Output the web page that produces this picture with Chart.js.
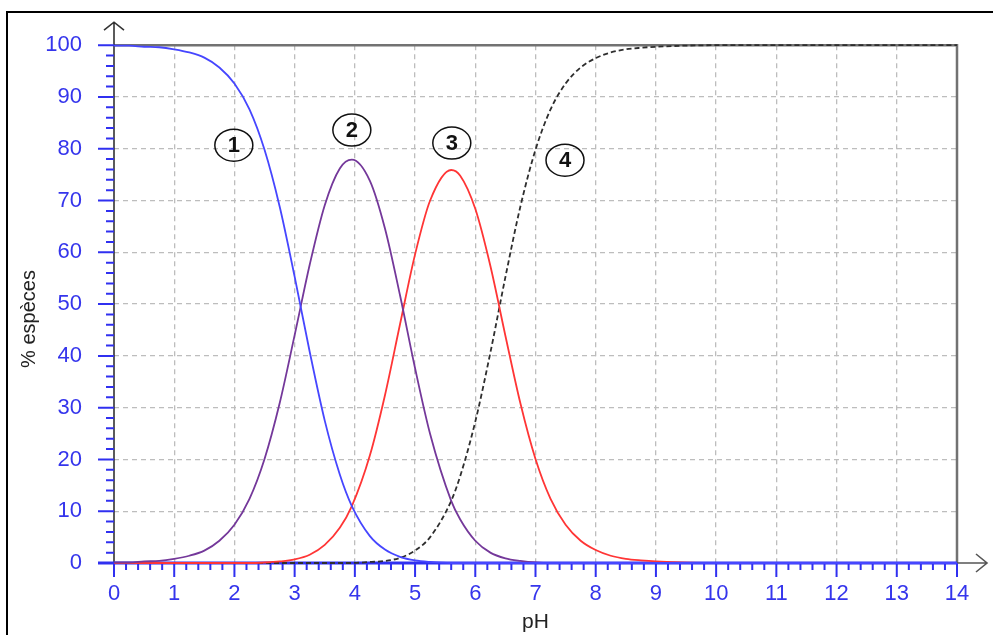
<!DOCTYPE html>
<html>
<head>
<meta charset="utf-8">
<title>% espèces en fonction du pH</title>
<script src="https://cdn.jsdelivr.net/npm/chart.js@4/dist/chart.umd.min.js"></script>
<style>
  html, body { margin: 0; padding: 0; background: #fff; }
  #cadre { width: 993px; height: 635px; position: relative; }
</style>
</head>
<body>
<div id="cadre"><canvas id="graphe"></canvas></div>
<script>
// valeurs
const pH = [0, 0.25, 0.5, 0.75, 1, 1.25, 1.5, 1.75, 2, 2.25, 2.5, 2.75, 3, 3.25, 3.5, 3.75, 3.95,
            4.25, 4.5, 4.75, 5, 5.25, 5.6, 5.75, 6, 6.25, 6.5, 6.75, 7, 7.25, 7.5, 7.75,
            8, 8.25, 8.5, 8.75, 9, 10, 11, 12, 13, 14];
const espece1 = [99.9, 99.9, 99.7, 99.6, 99.2, 98.6, 97.6, 95.7, 92.6, 87.6, 79.8, 68.9, 55.3, 40.8, 27.5, 17.1, 11.0,
                 5.2, 2.6, 1.2, 0.5, 0.2, 0, 0, 0, 0, 0, 0, 0, 0, 0, 0,
                 0, 0, 0, 0, 0, 0, 0, 0, 0, 0];
const espece2 = [0.1, 0.1, 0.3, 0.4, 0.8, 1.4, 2.4, 4.3, 7.4, 12.4, 20.1, 30.8, 44.0, 57.6, 69.1, 76.2, 77.9,
                 73.8, 64.6, 51.7, 37.6, 24.9, 12.0, 8.4, 4.3, 2.0, 0.9, 0.4, 0.1, 0, 0, 0,
                 0, 0, 0, 0, 0, 0, 0, 0, 0, 0];
const espece3 = [0, 0, 0, 0, 0, 0, 0, 0, 0, 0, 0.1, 0.3, 0.7, 1.6, 3.5, 6.8, 11.0,
                 20.8, 32.4, 46.1, 59.6, 70.0, 75.9, 74.8, 68.4, 57.4, 43.9, 30.8, 20.1, 12.4, 7.4, 4.3,
                 2.5, 1.4, 0.8, 0.5, 0.3, 0, 0, 0, 0, 0];
const espece4 = [0, 0, 0, 0, 0, 0, 0, 0, 0, 0, 0, 0, 0, 0, 0, 0, 0,
                 0.2, 0.4, 1.0, 2.4, 5.0, 12.0, 16.8, 27.3, 40.6, 55.2, 68.9, 79.8, 87.6, 92.6, 95.7,
                 97.5, 98.6, 99.2, 99.5, 99.7, 100, 100, 100, 100, 100];
const numeros = ['1', '2', '3', '4'];
const placeNumeros = [[1.99, 80.7], [3.95, 83.6], [5.61, 81.1], [7.49, 77.8]];

const bleuTexte = '#3535ec';
const police = '"Liberation Sans", Arial, sans-serif';

function points(valeurs) {
    return pH.map((p, i) => ({ x: p, y: valeurs[i] }));
}

// axes, flèches, graduations et étiquettes
const decor = {
    id: 'decor',
    beforeDraw(chart) {
        const ctx = chart.ctx;
        ctx.save();
        ctx.strokeStyle = '#000';
        ctx.lineWidth = 2;
        ctx.beginPath();
        ctx.moveTo(7, 640);
        ctx.lineTo(7, 12);
        ctx.lineTo(1000, 12);
        ctx.stroke();
        ctx.restore();
    },
    beforeDatasetsDraw(chart) {
        const { ctx, chartArea: a, scales: { x, y } } = chart;
        ctx.save();
        // cadre haut et droite
        ctx.strokeStyle = '#727272';
        ctx.lineWidth = 2.5;
        ctx.beginPath();
        ctx.moveTo(a.left, a.top);
        ctx.lineTo(a.right, a.top);
        ctx.lineTo(a.right, a.bottom);
        ctx.stroke();

        // axe vertical avec flèche
        ctx.strokeStyle = '#333';
        ctx.lineWidth = 1.6;
        ctx.beginPath();
        ctx.moveTo(a.left, a.bottom);
        ctx.lineTo(a.left, a.top - 23);
        ctx.moveTo(a.left - 10, a.top - 15);
        ctx.lineTo(a.left, a.top - 23);
        ctx.lineTo(a.left + 10, a.top - 15);
        ctx.stroke();

        // flèche horizontale
        ctx.strokeStyle = '#555';
        ctx.beginPath();
        ctx.moveTo(a.right, a.bottom);
        ctx.lineTo(a.right + 30, a.bottom);
        ctx.moveTo(a.right + 19, a.bottom - 9);
        ctx.lineTo(a.right + 30, a.bottom);
        ctx.lineTo(a.right + 19, a.bottom + 9);
        ctx.stroke();

        // axe horizontal bleu
        ctx.strokeStyle = '#3030f0';
        ctx.lineWidth = 3;
        ctx.beginPath();
        ctx.moveTo(a.left - 16, a.bottom);
        ctx.lineTo(a.right, a.bottom);
        ctx.stroke();

        // graduations
        ctx.lineWidth = 2;
        ctx.beginPath();
        for (let i = 0; i <= 70; i++) {
            const px = x.getPixelForValue(i / 5);
            const l = i % 5 === 0 ? 14 : 7;
            ctx.moveTo(px, a.bottom);
            ctx.lineTo(px, a.bottom + l);
        }
        for (let i = 0; i <= 50; i++) {
            const py = y.getPixelForValue(i * 2);
            const l = i % 5 === 0 ? 16 : 8;
            ctx.moveTo(a.left, py);
            ctx.lineTo(a.left - l, py);
        }
        ctx.stroke();
        ctx.restore();
    },
    afterDraw(chart) {
        const { ctx, scales: { x, y } } = chart;
        ctx.save();
        // titre vertical
        ctx.fillStyle = '#222';
        ctx.font = '20px ' + police;
        ctx.textAlign = 'center';
        ctx.textBaseline = 'middle';
        ctx.translate(29, 319);
        ctx.rotate(-Math.PI / 2);
        ctx.fillText('% espèces', 0, 0);
        ctx.restore();

        // numéros entourés
        ctx.save();
        ctx.strokeStyle = '#111';
        ctx.lineWidth = 1.5;
        ctx.fillStyle = '#111';
        ctx.font = 'bold 22px ' + police;
        ctx.textAlign = 'center';
        ctx.textBaseline = 'middle';
        numeros.forEach((n, i) => {
            const cx = x.getPixelForValue(placeNumeros[i][0]);
            const cy = y.getPixelForValue(placeNumeros[i][1]);
            ctx.beginPath();
            ctx.ellipse(cx, cy, 19, 16, 0, 0, Math.PI * 2);
            ctx.stroke();
            ctx.fillText(n, cx, cy + 1);
        });
        ctx.restore();
    }
};

new Chart(document.getElementById('graphe'), {
    type: 'line',
    data: {
        datasets: [
            { data: points(espece1), borderColor: '#4646ff', borderWidth: 1.8 },
            { data: points(espece2), borderColor: '#74389a', borderWidth: 1.8 },
            { data: points(espece3), borderColor: '#ff3535', borderWidth: 1.8 },
            { data: points(espece4), borderColor: '#2e2e2e', borderWidth: 1.8, borderDash: [5, 3] }
        ]
    },
    options: {
        responsive: true,
        maintainAspectRatio: false,
        animation: false,
        events: [],
        layout: { padding: { left: 0, top: 45, right: 36, bottom: 0 } },
        elements: {
            point: { radius: 0 },
            line: { cubicInterpolationMode: 'monotone', fill: false }
        },
        datasets: { line: { clip: false } },
        plugins: { legend: { display: false }, tooltip: { enabled: false } },
        scales: {
            x: {
                type: 'linear',
                min: 0,
                max: 14,
                afterFit: s => { s.height = 72; },
                ticks: { stepSize: 1, color: bleuTexte, padding: 18, font: { family: police, size: 22 } },
                grid: {
                    drawTicks: false,
                    color: c => (c.tick && (c.tick.value === 0 || c.tick.value === 14)) ? 'rgba(0,0,0,0)' : '#bdbdbd',
                    lineWidth: 1.3
                },
                border: { display: false, dash: [5, 4] },
                title: { display: true, text: 'pH', color: '#222', padding: 0, font: { family: police, size: 21 } }
            },
            y: {
                min: 0,
                max: 100,
                afterFit: s => { s.width = 114; },
                ticks: { stepSize: 10, color: bleuTexte, padding: 32, font: { family: police, size: 22 } },
                grid: {
                    drawTicks: false,
                    color: c => (c.tick && (c.tick.value === 0 || c.tick.value === 100)) ? 'rgba(0,0,0,0)' : '#bdbdbd',
                    lineWidth: 1.3
                },
                border: { display: false, dash: [5, 4] }
            }
        }
    },
    plugins: [decor]
});
</script>
</body>
</html>
